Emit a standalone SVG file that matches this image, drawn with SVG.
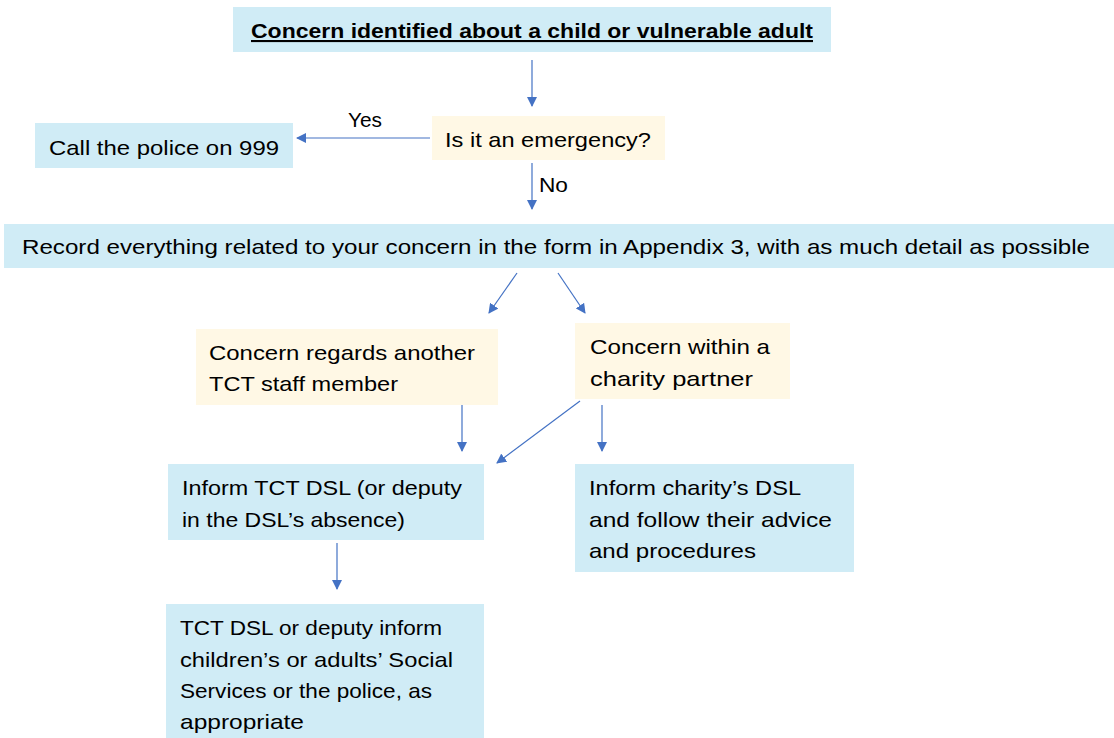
<svg xmlns="http://www.w3.org/2000/svg" width="1114" height="738" viewBox="0 0 1114 738">
<style>
.blue{fill:#D0ECF6}
.cream{fill:#FFF8E5}
text{font-family:"Liberation Sans",Arial,sans-serif;font-size:21px;fill:#000}
.title{font-weight:bold;text-decoration:underline}
.conn line{stroke:#4472C4;stroke-width:1.2;fill:none}
</style>
<defs>
<marker id="ah" viewBox="0 0 10 10" refX="9" refY="5" markerWidth="10" markerHeight="10" markerUnits="userSpaceOnUse" orient="auto">
<path d="M0,0 L10,5 L0,10 z" fill="#4472C4"/>
</marker>
</defs>
<rect width="1114" height="738" fill="#fff"/>
<g id="n1"><rect class="blue" x="233" y="7" width="598" height="45"/>
<text class="title" x="251" y="38" textLength="562" lengthAdjust="spacingAndGlyphs">Concern identified about a child or vulnerable adult</text></g>
<g id="n2"><rect class="cream" x="432" y="116" width="233" height="44"/>
<text x="445" y="147" textLength="206" lengthAdjust="spacingAndGlyphs">Is it an emergency?</text></g>
<g id="n3"><rect class="blue" x="35" y="123" width="258" height="45"/>
<text x="49" y="155" textLength="230" lengthAdjust="spacingAndGlyphs">Call the police on 999</text></g>
<g id="n4"><rect class="blue" x="4" y="224" width="1110" height="44"/>
<text x="22" y="254" textLength="1068" lengthAdjust="spacingAndGlyphs">Record everything related to your concern in the form in Appendix 3, with as much detail as possible</text></g>
<g id="n5"><rect class="cream" x="196" y="329" width="302" height="76"/>
<text x="209" y="360" textLength="266" lengthAdjust="spacingAndGlyphs">Concern regards another</text>
<text x="209" y="391" textLength="189" lengthAdjust="spacingAndGlyphs">TCT staff member</text></g>
<g id="n6"><rect class="cream" x="575" y="323" width="215" height="76"/>
<text x="590" y="354" textLength="180" lengthAdjust="spacingAndGlyphs">Concern within a</text>
<text x="590" y="386" textLength="163" lengthAdjust="spacingAndGlyphs">charity partner</text></g>
<g id="n7"><rect class="blue" x="168" y="464" width="316" height="76"/>
<text x="182" y="495" textLength="280" lengthAdjust="spacingAndGlyphs">Inform TCT DSL (or deputy</text>
<text x="182" y="527" textLength="223" lengthAdjust="spacingAndGlyphs">in the DSL’s absence)</text></g>
<g id="n8"><rect class="blue" x="575" y="464" width="279" height="108"/>
<text x="589" y="495" textLength="212" lengthAdjust="spacingAndGlyphs">Inform charity’s DSL</text>
<text x="589" y="527" textLength="243" lengthAdjust="spacingAndGlyphs">and follow their advice</text>
<text x="589" y="558" textLength="167" lengthAdjust="spacingAndGlyphs">and procedures</text></g>
<g id="n9"><rect class="blue" x="166" y="604" width="318" height="134"/>
<text x="180" y="635" textLength="262" lengthAdjust="spacingAndGlyphs">TCT DSL or deputy inform</text>
<text x="180" y="667" textLength="273" lengthAdjust="spacingAndGlyphs">children’s or adults’ Social</text>
<text x="180" y="698" textLength="252" lengthAdjust="spacingAndGlyphs">Services or the police, as</text>
<text x="180" y="729" textLength="124" lengthAdjust="spacingAndGlyphs">appropriate</text></g>
<g id="connectors" class="conn">
<line x1="532" y1="60" x2="532" y2="106" marker-end="url(#ah)"/>
<line x1="430" y1="138" x2="297" y2="138" marker-end="url(#ah)"/>
<line x1="532" y1="163" x2="532" y2="209" marker-end="url(#ah)"/>
<line x1="517" y1="273" x2="489" y2="313" marker-end="url(#ah)"/>
<line x1="558" y1="273" x2="585" y2="313" marker-end="url(#ah)"/>
<line x1="462" y1="405" x2="462" y2="451" marker-end="url(#ah)"/>
<line x1="580" y1="401" x2="497" y2="463" marker-end="url(#ah)"/>
<line x1="602" y1="405" x2="602" y2="451" marker-end="url(#ah)"/>
<line x1="337" y1="543" x2="337" y2="589" marker-end="url(#ah)"/>
</g>
<text x="348" y="127" textLength="34" lengthAdjust="spacingAndGlyphs">Yes</text>
<text x="539" y="192" textLength="29" lengthAdjust="spacingAndGlyphs">No</text>
</svg>
